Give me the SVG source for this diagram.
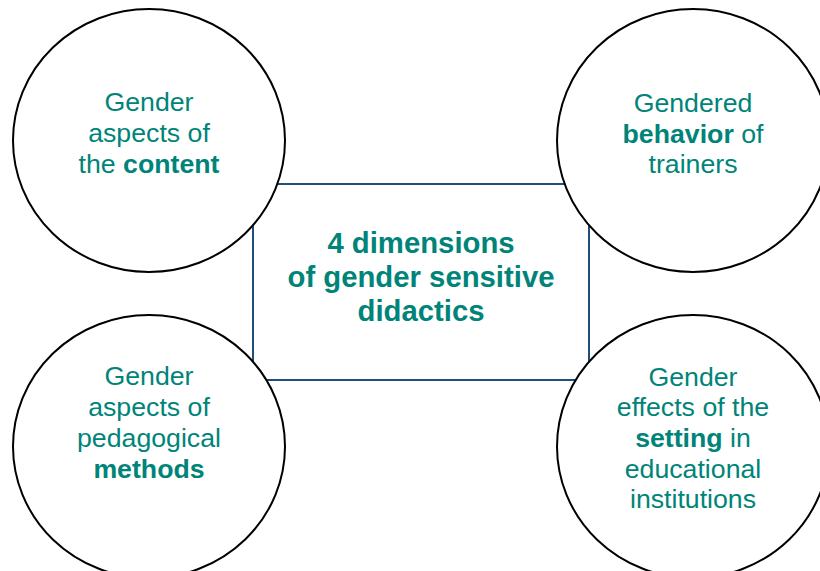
<svg xmlns="http://www.w3.org/2000/svg" width="820" height="571" viewBox="0 0 820 571">
<style>
.bg{fill:#ffffff}
.c{fill:#ffffff;stroke:#000000;stroke-width:2}
.box{fill:#ffffff;stroke:#1F4E79;stroke-width:2}
.t{font-family:"Liberation Sans",Arial,sans-serif;font-size:26.7px;fill:#008479;text-anchor:middle}
.tc{font-family:"Liberation Sans",Arial,sans-serif;font-size:29.3px;font-weight:bold;fill:#008479;text-anchor:middle}
.b{font-weight:bold}
</style>
<rect class="bg" x="0" y="0" width="820" height="571"/>
<g id="center">
<rect class="box" x="253" y="184" width="336" height="196"/>
<text class="tc" x="421" y="253">4 dimensions</text>
<text class="tc" x="421" y="287">of gender sensitive</text>
<text class="tc" x="421" y="321">didactics</text>
</g>
<g id="content">
<ellipse class="c" cx="149" cy="140.5" rx="136" ry="131.5"/>
<text class="t" x="149" y="111">Gender</text>
<text class="t" x="149" y="142">aspects of</text>
<text class="t" x="149" y="173">the <tspan class="b">content</tspan></text>
</g>
<g id="behavior">
<ellipse class="c" cx="693" cy="140.5" rx="136" ry="131.5"/>
<text class="t" x="693" y="112">Gendered</text>
<text class="t" x="693" y="143"><tspan class="b">behavior</tspan> of</text>
<text class="t" x="693" y="173">trainers</text>
</g>
<g id="methods">
<ellipse class="c" cx="149" cy="446.5" rx="136" ry="131.5"/>
<text class="t" x="149" y="385">Gender</text>
<text class="t" x="149" y="416">aspects of</text>
<text class="t" x="149" y="447">pedagogical</text>
<text class="t b" x="149" y="478">methods</text>
</g>
<g id="setting">
<ellipse class="c" cx="693" cy="446.5" rx="136" ry="131.5"/>
<text class="t" x="693" y="386">Gender</text>
<text class="t" x="693" y="416">effects of the</text>
<text class="t" x="693" y="447"><tspan class="b">setting</tspan> in</text>
<text class="t" x="693" y="478">educational</text>
<text class="t" x="693" y="508">institutions</text>
</g>
<g id="connectors"></g>
</svg>
